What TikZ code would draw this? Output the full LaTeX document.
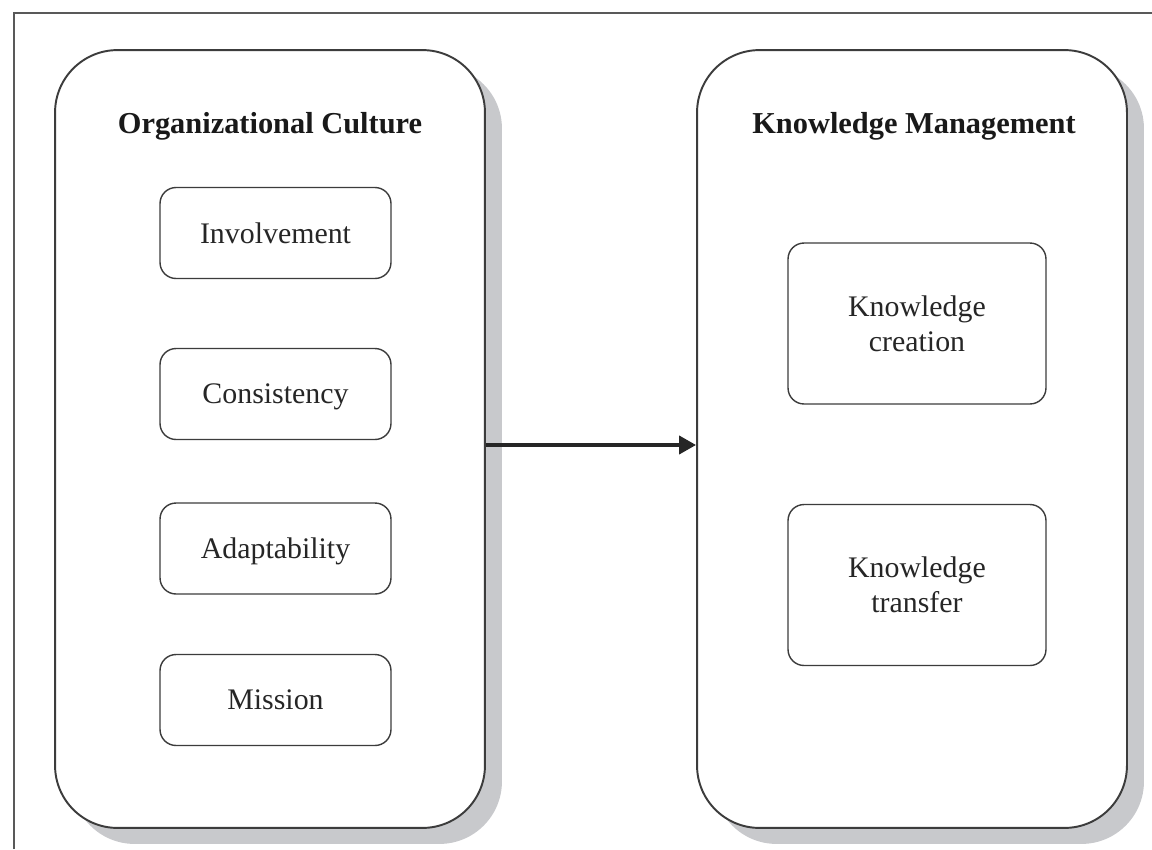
\documentclass[tikz,border=0pt]{standalone}
\usepackage{fontspec}
\setmainfont{Liberation Serif}
\usetikzlibrary{shadows,arrows.meta}
\definecolor{shadowGray}{RGB}{200,201,204}
\definecolor{lineGray}{RGB}{60,60,60}
\tikzstyle{outerBox}=[shape = rectangle, rounded corners = 1.25cm, minimum width = 8.6cm, minimum height = 15.56cm, line width = 1.1pt, draw = lineGray, fill = white, drop shadow = {shadow xshift = 0.34cm, shadow yshift = -0.32cm, fill = shadowGray, opacity = 1}]
\tikzstyle{innerBox}=[shape = rectangle, rounded corners = 0.32cm, line width = 0.8pt, draw = lineGray, align = center, text = black!85, text depth = 0pt, font = \fontsize{17}{20}\selectfont]

\begin{document}
\begin{tikzpicture}[x = 0.02cm, y = -0.02cm]
\tikzstyle{titleStyle}=[font = \fontsize{17.3}{20}\selectfont\bfseries, text = black!90]
\useasboundingbox (0,0) rectangle (1152,849);
\coordinate (f0) at (14,849);
\coordinate (f1) at (14,13);
\coordinate (f2) at (1152,13);
\draw[line width = 1.2pt, draw = black!65] (f0) -- (f1) -- (f2);
\node[outerBox] (culture) at (270,439) {};
\node[outerBox] (km) at (912,439) {};
\node[titleStyle] (cultureTitle) at (270,126) {Organizational Culture};
\node[titleStyle] (kmTitle) at (914,126) {Knowledge Management};
\node[innerBox, minimum width = 4.62cm, minimum height = 1.82cm] (c1) at (275.5,233) {Involvement};
\node[innerBox, minimum width = 4.62cm, minimum height = 1.82cm] (c2) at (275.5,394) {Consistency};
\node[innerBox, minimum width = 4.62cm, minimum height = 1.82cm] (c3) at (275.5,548.5) {Adaptability};
\node[innerBox, minimum width = 4.62cm, minimum height = 1.82cm] (c4) at (275.5,700) {Mission};
\node[innerBox, minimum width = 5.16cm, minimum height = 3.22cm] (k1) at (917,323.5) {Knowledge\\creation};
\node[innerBox, minimum width = 5.16cm, minimum height = 3.22cm] (k2) at (917,585) {Knowledge\\transfer};
\draw[line width = 2.2pt, draw = black!85, -{Triangle[length = 0.34cm, width = 0.36cm]}] ([yshift = -0.12cm]culture.east) -- ([yshift = -0.12cm]km.west);
\end{tikzpicture}
\end{document}
